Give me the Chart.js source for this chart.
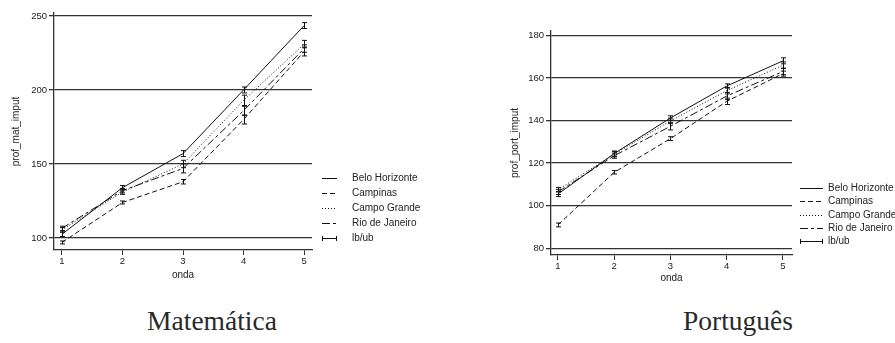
<!DOCTYPE html>
<html>
<head>
<meta charset="utf-8">
<script src="https://cdn.jsdelivr.net/npm/chart.js@4"></script>
<style>
body { margin: 0; background: #fff; width: 895px; height: 343px; position: relative; overflow: hidden; }
canvas { position: absolute; top: 0; }
#cMat { left: 0; }
#cPort { left: 450px; }
.cap { position: absolute; top: 306px; line-height: 30px; font-family: "Liberation Serif", serif; font-size: 27.5px; color: #2a2a2a; transform: translateX(-50%); white-space: nowrap; }
</style>
</head>
<body>
<canvas id="cMat" width="450" height="300"></canvas>
<canvas id="cPort" width="445" height="300"></canvas>
<div class="cap" style="left:212px">Matemática</div>
<div class="cap" style="left:738px">Português</div>
<script>
const onda = [1, 2, 3, 4, 5];
const cities = ['Belo Horizonte', 'Campinas', 'Campo Grande', 'Rio de Janeiro'];

// Matemática
const matBH   = [102.5, 134, 157, 200, 243.5];
const matCamp = [97, 124, 138, 180, 226];
const matCG   = [105.5, 131, 150, 193, 231];
const matRio  = [106.5, 132, 147, 186, 228];
const matBHlb   = [101, 132.5, 155, 198, 241.5];
const matBHub   = [104, 135.5, 159, 202, 245.5];
const matCamplb = [96, 123, 136.5, 177, 223];
const matCampub = [98, 125, 139.5, 183, 229];
const matCGlb   = [104, 129.5, 147.5, 189.5, 228.5];
const matCGub   = [107, 132.5, 152.5, 196.5, 233.5];
const matRiolb  = [105, 130.5, 144, 183, 225.5];
const matRioub  = [108, 133.5, 150, 189, 230.5];
const matTicks = [100, 150, 200, 250];

// Português
const portBH   = [105.5, 124.5, 141.2, 156.2, 168];
const portCamp = [91, 115.7, 131.5, 149, 162];
const portCG   = [107.5, 124.2, 139.8, 154, 166];
const portRio  = [106.5, 123.5, 137.3, 151.5, 163];
const portBHlb   = [104.3, 123.3, 140.2, 155.2, 166.6];
const portBHub   = [106.7, 125.7, 142.2, 157.2, 169.4];
const portCamplb = [90.1, 114.9, 130.6, 147.5, 160.8];
const portCampub = [91.9, 116.5, 132.4, 150.5, 163.2];
const portCGlb   = [106.5, 123, 138.5, 152.5, 164.5];
const portCGub   = [108.6, 125.4, 141.1, 155.5, 167.5];
const portRiolb  = [105.3, 122.3, 135.6, 149.8, 161.5];
const portRioub  = [107.7, 124.7, 139, 153.2, 164.5];
const portTicks = [80, 100, 120, 140, 160, 180];

const dashes = [[], [5, 3], [1, 2], [8, 3, 3, 3]];
const FONT = 'Liberation Sans';

// error bars (lb/ub) drawn through the chart scales
const errBars = {
    id: 'errBars',
    afterDatasetsDraw(chart) {
        const { ctx, scales: { x, y } } = chart;
        ctx.save();
        ctx.strokeStyle = '#111';
        ctx.lineWidth = 1;
        chart.data.datasets.forEach(ds => {
            ds.lb.forEach((lo, i) => {
                const px = Math.round(x.getPixelForValue(ds.data[i].x)) + 0.5;
                const y1 = y.getPixelForValue(lo);
                const y2 = y.getPixelForValue(ds.ub[i]);
                ctx.beginPath();
                ctx.moveTo(px, y1); ctx.lineTo(px, y2);
                ctx.moveTo(px - 2.5, y1); ctx.lineTo(px + 2.5, y1);
                ctx.moveTo(px - 2.5, y2); ctx.lineTo(px + 2.5, y2);
                ctx.stroke();
            });
        });
        ctx.restore();
    }
};

// legend in the stata style, at the right of the plot
const stataLegend = {
    id: 'stataLegend',
    afterDraw(chart, args, opts) {
        const ctx = chart.ctx;
        ctx.save();
        ctx.font = '10px "' + FONT + '"';
        ctx.fillStyle = '#222';
        ctx.textBaseline = 'middle';
        ctx.strokeStyle = '#111';
        ctx.lineWidth = 1;
        const items = chart.data.datasets.map(d => ({ text: d.label, dash: d.borderDash }));
        items.push({ text: 'lb/ub', caps: true });
        items.forEach((it, i) => {
            const yy = Math.round(opts.y + i * opts.rowH) + 0.5;
            ctx.setLineDash(it.dash || []);
            ctx.beginPath();
            ctx.moveTo(opts.x, yy);
            ctx.lineTo(opts.x + opts.len, yy);
            if (it.caps) {
                ctx.moveTo(opts.x + 0.5, yy - 2.5); ctx.lineTo(opts.x + 0.5, yy + 2.5);
                ctx.moveTo(opts.x + opts.len - 0.5, yy - 2.5); ctx.lineTo(opts.x + opts.len - 0.5, yy + 2.5);
            }
            ctx.stroke();
            ctx.setLineDash([]);
            ctx.fillText(it.text, opts.textX, yy);
        });
        ctx.restore();
    }
};

function series(vals, lbs, ubs) {
    return vals.map((v, k) => ({
        label: cities[k],
        data: onda.map((o, i) => ({ x: o, y: v[i] })),
        lb: lbs[k],
        ub: ubs[k],
        borderColor: '#111',
        borderWidth: 1,
        borderDash: dashes[k],
        pointRadius: 0,
        tension: 0,
        fill: false
    }));
}

function makeConfig(p) {
    return {
        type: 'line',
        data: { datasets: series(p.vals, p.lbs, p.ubs) },
        options: {
            responsive: false,
            animation: false,
            events: [],
            layout: { padding: p.padding },
            plugins: {
                legend: { display: false },
                tooltip: { enabled: false },
                stataLegend: p.legend
            },
            scales: {
                x: {
                    type: 'linear',
                    min: p.xmin,
                    max: p.xmax,
                    afterBuildTicks: s => { s.ticks = onda.map(v => ({ value: v })); },
                    afterFit: s => { s.height = 40; },
                    grid: { drawOnChartArea: false, drawTicks: true, tickLength: 5, color: '#333', lineWidth: 1 },
                    border: { display: true, color: '#333', width: 1.3 },
                    ticks: { font: { family: FONT, size: 9.5 }, color: '#222', padding: 1, maxRotation: 0 },
                    title: { display: true, text: 'onda', font: { family: FONT, size: 10 }, color: '#222', padding: { top: 0, bottom: p.xTitlePad } }
                },
                y: {
                    min: p.ymin,
                    max: p.ymax,
                    afterBuildTicks: s => { s.ticks = p.ticks.map(v => ({ value: v })); },
                    afterFit: s => { s.width = p.yWidth; },
                    grid: { color: '#333', lineWidth: 1.3, tickLength: 5, drawTicks: true },
                    border: { display: true, color: '#333', width: 1.3 },
                    ticks: { font: { family: FONT, size: 9.5 }, color: '#222', padding: 2 },
                    title: { display: true, text: p.yTitle, font: { family: FONT, size: 10 }, color: '#222', padding: { top: p.yTitlePad, bottom: 0 } }
                }
            }
        },
        plugins: [errBars, stataLegend]
    };
}

new Chart(document.getElementById('cMat'), makeConfig({
    vals: [matBH, matCamp, matCG, matRio],
    lbs: [matBHlb, matCamplb, matCGlb, matRiolb],
    ubs: [matBHub, matCampub, matCGub, matRioub],
    ticks: matTicks,
    ymin: 91.9, ymax: 252,
    xmin: 0.87, xmax: 5.13,
    yWidth: 54,
    yTitle: 'prof_mat_imput', yTitlePad: 10,
    xTitlePad: 9,
    padding: { left: 0, right: 138, top: 13, bottom: 10 },
    legend: { x: 322, len: 15, textX: 352, y: 178, rowH: 15 }
}));

new Chart(document.getElementById('cPort'), makeConfig({
    vals: [portBH, portCamp, portCG, portRio],
    lbs: [portBHlb, portCamplb, portCGlb, portRiolb],
    ubs: [portBHub, portCampub, portCGub, portRioub],
    ticks: portTicks,
    ymin: 76.9, ymax: 182,
    xmin: 0.876, xmax: 5.16,
    yWidth: 101,
    yTitle: 'prof_port_imput', yTitlePad: 59,
    xTitlePad: 11,
    padding: { left: 0, right: 103, top: 31, bottom: 5 },
    legend: { x: 350, len: 23, textX: 378, y: 188, rowH: 13.3 }
}));
</script>
</body>
</html>
